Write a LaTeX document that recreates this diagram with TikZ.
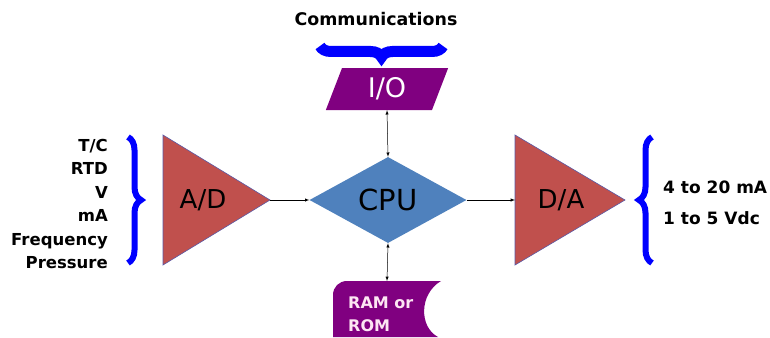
\documentclass[tikz,border=0pt]{standalone}
\usepackage{fontspec}
\setmainfont{DejaVu Sans}
\usepackage{xcolor}
\usetikzlibrary{shapes.geometric}
\usetikzlibrary{arrows}
\usetikzlibrary{decorations.pathreplacing}

\definecolor{convred}{RGB}{192,80,77}
\definecolor{cpublue}{RGB}{79,129,189}
\definecolor{iopurple}{RGB}{128,0,128}
\definecolor{bracecol}{RGB}{0,0,255}

\tikzset{
    conv/.style = {fill = convred, draw = gray!70!blue, line width = 0.6pt},
    curly/.style = {decorate, decoration = {brace, amplitude = #1},
        draw = bracecol, line width = 6pt},
    link/.style = {-latex, line width = 0.5pt},
    dlink/.style = {latex-latex, line width = 0.5pt}
}

\begin{document}
\begin{tikzpicture}[x = 1pt, y = -1pt]
        \useasboundingbox (0, 0) rectangle (770, 337);

        % converters
        \draw[conv] (163, 135) -- (270, 200) -- (163, 265) -- cycle;
        \coordinate (adtip) at (270, 200);
        \node[font = \fontsize{26}{30}\selectfont] (ad) at (203, 200) {A/D};

        \draw[conv] (515, 135) -- (625, 200) -- (515, 265) -- cycle;
        \coordinate (daleft) at (515, 200);
        \node[font = \fontsize{26}{30}\selectfont] (da) at (561, 200) {D/A};

        % processor
        \node[diamond, fill = cpublue, inner sep = 0pt,
            minimum width = 157pt, minimum height = 86pt,
            font = \fontsize{29}{32}\selectfont] (cpu) at (388, 200) {CPU};

        \node[trapezium, trapezium left angle = 73, trapezium right angle = 107,
            trapezium stretches = true, fill = iopurple, text = white,
            inner sep = 0pt, minimum width = 123pt, minimum height = 42pt,
            font = \fontsize{27}{30}\selectfont] (io) at (387, 89) {I/O};

        % memory
        \fill[iopurple] (347, 281) -- (441, 281)
            .. controls (419, 294) and (419, 327) .. (438, 337)
            -- (333, 337) -- (333, 295)
            .. controls (333, 287) and (339, 281) .. (347, 281) -- cycle;
        \coordinate (memtop) at (387, 281);
        \node[anchor = west, align = left, text = white!90!magenta, inner sep = 0pt,
            font = \fontsize{16}{23}\selectfont\bfseries]
            (mem) at (348, 314) {RAM or\\ROM};

        % connections
        \draw[link] (adtip) -- (cpu.west);
        \draw[link] (cpu.east) -- (daleft);
        \draw[dlink] (io.south) -- (cpu.north);
        \draw[dlink] (cpu.south) -- (memtop);

        % signals
        \node[anchor = east, align = right, inner sep = 0pt,
            font = \fontsize{16.5}{23.5}\selectfont\bfseries] (inputs) at (108, 204)
            {T/C\\RTD\\V\\mA\\Frequency\\Pressure};
        \draw[curly = 13pt] (128, 137) -- (128, 263);

        \node[anchor = west, align = left, inner sep = 0pt,
            font = \fontsize{17}{31}\selectfont\bfseries] (outputs) at (663, 203)
            {4 to 20 mA\\1 to 5 Vdc};
        \draw[curly = 13pt] (652, 263) -- (652, 137);

        \node[font = \fontsize{17.4}{20}\selectfont\bfseries] (comm) at (376, 19)
            {Communications};
        \draw[curly = 11pt, line width = 11pt] (443, 46) -- (320, 46);
\end{tikzpicture}
\end{document}
